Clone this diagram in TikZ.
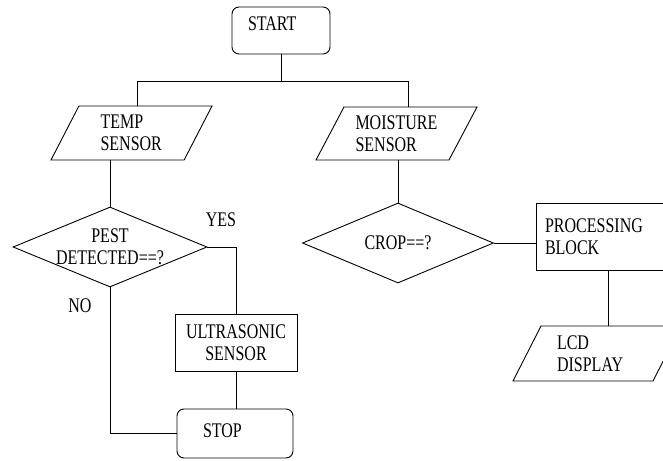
\documentclass[tikz,border=0pt]{standalone}
\usepackage{fontspec}
\setmainfont{Liberation Serif}[FakeStretch=0.77]
\usetikzlibrary{shapes.geometric}
\tikzset{
  termbox/.style={draw,rectangle,rounded corners=7pt,text height=14pt,text depth=13pt,align=left},
  iobox/.style={draw,trapezium,trapezium left angle=55,trapezium right angle=125,trapezium stretches body,align=left,inner sep=2pt},
  procbox/.style={draw,rectangle,align=center},
  decbox/.style={draw,diamond,inner xsep=0pt,inner ysep=-10pt,aspect=2.4,align=center},
  lbl/.style={inner sep=0pt}
}
\begin{document}
\begin{tikzpicture}[x=1pt,y=-1pt,line width=0.9pt,font=\fontsize{20.8pt}{22pt}\selectfont]
\useasboundingbox (0,0) rectangle (663,460);
\clip (0,0) rectangle (663,460);
\node[termbox,minimum width=98pt,minimum height=47pt,text width=66pt] (start) at (281,30.5) {START};
\node[iobox,minimum width=161pt,minimum height=54pt,text width=62pt] (temp) at (131.5,133) {TEMP\\SENSOR};
\node[iobox,minimum width=161pt,minimum height=53pt,text width=82pt] (moist) at (396.5,133.5) {MOISTURE\\SENSOR};
\node[decbox,minimum width=194pt,minimum height=80pt] (pest) at (110,247) {PEST\\DETECTED==?};
\node[decbox,minimum width=191pt,minimum height=80pt] (crop) at (398,243) {CROP==?};
\node[procbox,minimum width=144pt,minimum height=67pt,text width=126pt,align=left] (proc) at (608,236.5) {PROCESSING\\BLOCK};
\node[iobox,minimum width=168pt,minimum height=55pt,text width=80pt] (lcd) at (597,353.5) {LCD\\DISPLAY};
\node[procbox,minimum width=122pt,minimum height=57pt] (ultra) at (236,342.5) {ULTRASONIC\\SENSOR};
\node[termbox,minimum width=116pt,minimum height=49pt,text width=64pt,text depth=7pt] (stop) at (235,433.5) {STOP};
\node[lbl] (yes) at (221,220) {YES};
\node[lbl] (no) at (80,306) {NO};
\draw (start.south) -- ++(0,27) coordinate (fork);
\draw (fork) -| ([xshift=5.5pt]temp.north);
\draw (fork) -| ([xshift=11.5pt]moist.north);
\draw (pest.north |- temp.south) -- (pest.north);
\draw (crop.north |- moist.south) -- (crop.north);
\draw (crop.east) -- (crop.east -| proc.west);
\draw (proc.south) -- (proc.south |- lcd.north);
\draw (pest.east) -| (ultra.north);
\draw (ultra.south) -- (ultra.south |- stop.north);
\draw (pest.south) |- (stop.west);
\end{tikzpicture}
\end{document}
